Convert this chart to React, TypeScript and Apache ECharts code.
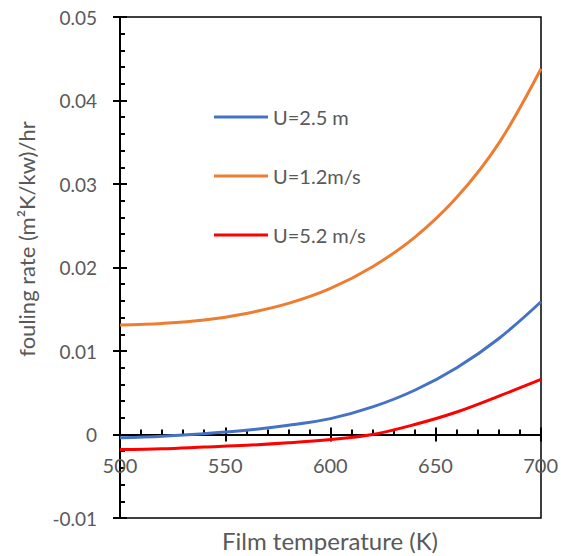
import React, { useEffect, useRef } from "react";
import * as echarts from "echarts";

const temperatures = [500, 520, 540, 560, 580, 600, 620, 640, 660, 680, 700];
const seriesNames = ["U=2.5 m", "U=1.2m/s", "U=5.2 m/s"];
const blueValues = [-0.0004, -0.0002, 0.0001, 0.0005, 0.0011, 0.0019, 0.0033, 0.0053, 0.008, 0.0115, 0.0159];
const orangeValues = [0.0131, 0.0133, 0.0137, 0.0145, 0.0157, 0.0175, 0.0201, 0.0236, 0.0284, 0.0349, 0.0438];
const redValues = [-0.0018, -0.0017, -0.0015, -0.0013, -0.001, -0.0006, 0.0, 0.0012, 0.0027, 0.0046, 0.0066];
const colors = ["#4472C4", "#ED7D31", "#FF0000"];

const FONT = "Lato, 'Open Sans', sans-serif";
const GRAY = "#595959";

export default function App() {
  const ref = useRef<HTMLDivElement>(null);
  useEffect(() => {
    if (!ref.current) return;
    const chart = echarts.init(ref.current, null, { renderer: "svg" });
    const allValues = [blueValues, orangeValues, redValues];
    const tickStyle = { color: "#000", width: 2 };
    const baseX = {
      type: "value" as const,
      min: 500,
      max: 700,
      interval: 50,
      splitLine: { show: false },
    };
    const baseY = {
      type: "value" as const,
      min: -0.01,
      max: 0.05,
      interval: 0.01,
      splitLine: { show: false },
    };
    chart.setOption({
      animation: false,
      textStyle: { fontFamily: FONT },
      grid: [
        {
          left: 120,
          right: 20,
          top: 17,
          bottom: 38,
          show: true,
          borderColor: "#000",
          borderWidth: 1.5,
          backgroundColor: "transparent",
        },
        // helper grid whose bottom edge sits on the zero line, for the x tick labels
        { left: 120, right: 20, top: 17, bottom: 122, show: false },
      ],
      legend: {
        orient: "vertical",
        left: 209,
        top: 102,
        itemWidth: 54,
        itemHeight: 3,
        itemGap: 39,
        icon: "rect",
        textStyle: { fontSize: 20, color: GRAY, fontFamily: FONT },
        data: seriesNames,
      },
      xAxis: [
        {
          ...baseX,
          gridIndex: 0,
          position: "bottom",
          axisLine: { onZero: true, lineStyle: { color: "#000", width: 2 } },
          axisTick: { show: true, length: 7, lineStyle: tickStyle },
          axisLabel: { show: false },
        },
        {
          ...baseX,
          gridIndex: 0,
          position: "bottom",
          axisLine: { onZero: true, show: false },
          axisTick: { show: true, inside: true, length: 7, lineStyle: tickStyle },
          minorTick: { show: true, splitNumber: 5, length: 5, lineStyle: tickStyle },
          axisLabel: { show: false },
        },
        {
          ...baseX,
          gridIndex: 1,
          position: "bottom",
          axisLine: { show: false, onZero: false },
          axisTick: { show: false },
          axisLabel: { margin: 21, fontSize: 20, color: GRAY, fontFamily: FONT },
        },
      ],
      yAxis: [
        {
          ...baseY,
          gridIndex: 0,
          position: "left",
          axisLine: { show: true, lineStyle: { color: "#000", width: 2 } },
          axisTick: { show: true, length: 7, lineStyle: tickStyle },
          axisLabel: {
            margin: 23,
            fontSize: 19,
            color: GRAY,
            fontFamily: FONT,
            formatter: (v: number) => (Math.abs(v) < 1e-9 ? "0" : v.toFixed(2)),
          },
        },
        {
          ...baseY,
          gridIndex: 0,
          position: "left",
          axisLine: { show: false },
          axisTick: { show: true, inside: true, length: 7, lineStyle: tickStyle },
          minorTick: { show: true, splitNumber: 5, length: 5, lineStyle: tickStyle },
          axisLabel: { show: false },
        },
        {
          type: "value",
          gridIndex: 1,
          min: 0,
          max: 1,
          show: false,
        },
      ],
      graphic: [
        {
          type: "text",
          x: 330,
          y: 540,
          style: {
            text: "Film temperature (K)",
            fontSize: 24,
            fill: GRAY,
            fontFamily: FONT,
            align: "center",
            verticalAlign: "middle",
          },
        },
        {
          type: "text",
          x: 26,
          y: 239,
          rotation: Math.PI / 2,
          style: {
            text: "fouling rate (m²K/kw)/hr",
            fontSize: 22,
            fill: GRAY,
            fontFamily: FONT,
            align: "center",
            verticalAlign: "middle",
          },
        },
      ],
      series: seriesNames.map((name, i) => ({
        name,
        type: "line",
        xAxisIndex: 0,
        yAxisIndex: 0,
        smooth: 0.35,
        symbol: "none",
        showSymbol: false,
        color: colors[i],
        lineStyle: { width: 3, color: colors[i] },
        data: temperatures.map((t, j) => [t, allValues[i][j]]),
      })),
    });
    return () => chart.dispose();
  }, []);
  return (
    <div
      ref={ref}
      style={{ position: "absolute", left: 0, top: 0, width: 561, height: 556 }}
    />
  );
}
